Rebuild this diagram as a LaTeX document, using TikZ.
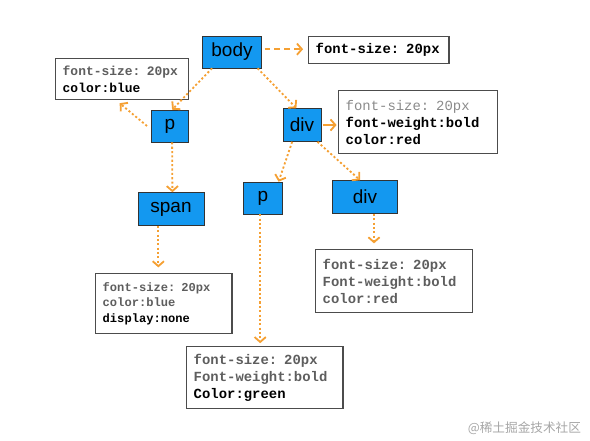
\documentclass[tikz,border=0pt]{standalone}
\usepackage{fontspec}
\setmainfont{Liberation Sans}
\setmonofont{Liberation Mono}
\newfontfamily\cjkfont{Noto Sans CJK SC}
\usetikzlibrary{arrows.meta}
\definecolor{nodeblue}{HTML}{1398F0}
\definecolor{arrorange}{HTML}{F5A033}
\definecolor{txtgray}{HTML}{5E5E5E}
\definecolor{txtlight}{HTML}{8A8A8A}
\tikzset{
  elem/.style={draw=black!80, fill=nodeblue, inner sep=0pt, font=\fontsize{13.5}{15}\selectfont},
  cssbox/.style={draw=black!70, line width=1pt, fill=white, align=left, anchor=north west, inner xsep=5pt, inner ysep=0pt,
    font=\ttfamily\fontsize{9.9}{12}\selectfont},
  tip/.style={-{Straight Barb[length=3.5pt,width=8pt]}},
  dotarrow/.style={arrorange, line width=1.3pt, dash pattern=on 1.5pt off 1.6pt, tip},
  dasharrow/.style={arrorange, line width=1.3pt, dash pattern=on 4pt off 3pt, tip},
}
\newcommand{\gr}[1]{{\color{txtgray}\bfseries #1}}
\newcommand{\bk}[1]{{\bfseries #1}}
\begin{document}
\begin{tikzpicture}[x=0.025cm, y=-0.025cm]
  \useasboundingbox (0,0) rectangle (590,440);

  % element nodes
  \node[elem, minimum width=1.475cm, minimum height=0.8cm] (body) at (232,52) {body};
  \node[elem, minimum width=0.925cm, minimum height=0.8cm] (p1) at (170,126) {p};
  \node[elem, minimum width=0.95cm, minimum height=0.825cm] (div1) at (302,125) {div};
  \node[elem, minimum width=1.65cm, minimum height=0.825cm] (span) at (171,209) {span};
  \node[elem, minimum width=0.975cm, minimum height=0.8cm] (p2) at (263,198) {p};
  \node[elem, minimum width=1.625cm, minimum height=0.825cm] (div2) at (365,197) {div};

  % style boxes
  \node[cssbox, text width=3.15cm, minimum height=0.675cm] (sbody) at (308,36) {\bk{font-size: 20px}};
  \node[cssbox, text width=2.97cm, minimum height=1.025cm, font=\ttfamily\fontsize{9.2}{12}\selectfont] (sp1) at (55,58)
    {\gr{font-size: 20px}\\\bk{color:blue}};
  \node[cssbox, text width=3.62cm, minimum height=1.575cm] (sdiv1) at (338,90)
    {{\color{txtlight}font-size: 20px}\\\bk{font-weight:bold}\\\bk{color:red}};
  \node[cssbox, text width=3.05cm, minimum height=1.5cm, font=\ttfamily\fontsize{8.6}{11.2}\selectfont] (sspan) at (95,273)
    {\gr{font-size: 20px}\\\gr{color:blue}\\\bk{display:none}};
  \node[cssbox, text width=3.57cm, minimum height=1.575cm] (sdiv2) at (315,249)
    {\gr{font-size: 20px}\\\gr{Font-weight:bold}\\\gr{color:red}};
  \node[cssbox, text width=3.55cm, minimum height=1.55cm] (sp2) at (186,346)
    {\gr{font-size: 20px}\\\gr{Font-weight:bold}\\\bk{Color:green}};

  % connectors
  \draw[dasharrow] ([xshift=2pt,yshift=2pt]body.east) coordinate (b0) -- ([xshift=-3.5pt]sbody.west |- b0);
  \draw[dotarrow] ([xshift=7pt]body.south west) -- ([xshift=1.5pt]p1.north);
  \draw[dotarrow] ([xshift=-3pt]body.south east) -- ([xshift=-4pt]div1.north);
  \draw[dotarrow] ([xshift=-3pt]p1.west) -- ([xshift=46pt,yshift=-2pt]sp1.south west);
  \draw[arrorange, line width=1.3pt, tip] ([xshift=1.5pt]div1.east) -- ([xshift=-1pt]sdiv1.west |- div1.east);
  \draw[dotarrow] ([xshift=1.5pt]p1.south) -- ([xshift=1pt]span.north);
  \draw[dotarrow] ([xshift=-7pt]div1.south) -- ([xshift=-3pt]p2.north east);
  \draw[dotarrow] ([xshift=11pt]div1.south) -- ([xshift=-3.5pt]div2.north);
  \draw[dotarrow] ([xshift=-9pt]span.south) -- ([xshift=-9pt,yshift=4pt]span.south |- sspan.north);
  \draw[dotarrow] ([xshift=-2pt]p2.south) -- ([xshift=-2pt,yshift=2pt]p2.south |- sp2.north);
  \draw[dotarrow] ([xshift=6.4pt]div2.south) -- ([xshift=6.4pt,yshift=4pt]div2.south |- sdiv2.north);

  % watermark
  \node[text=black!35, font=\cjkfont\fontsize{9}{10}\selectfont, anchor=east] (mark) at (586,428) {@稀土掘金技术社区};
\end{tikzpicture}
\end{document}
